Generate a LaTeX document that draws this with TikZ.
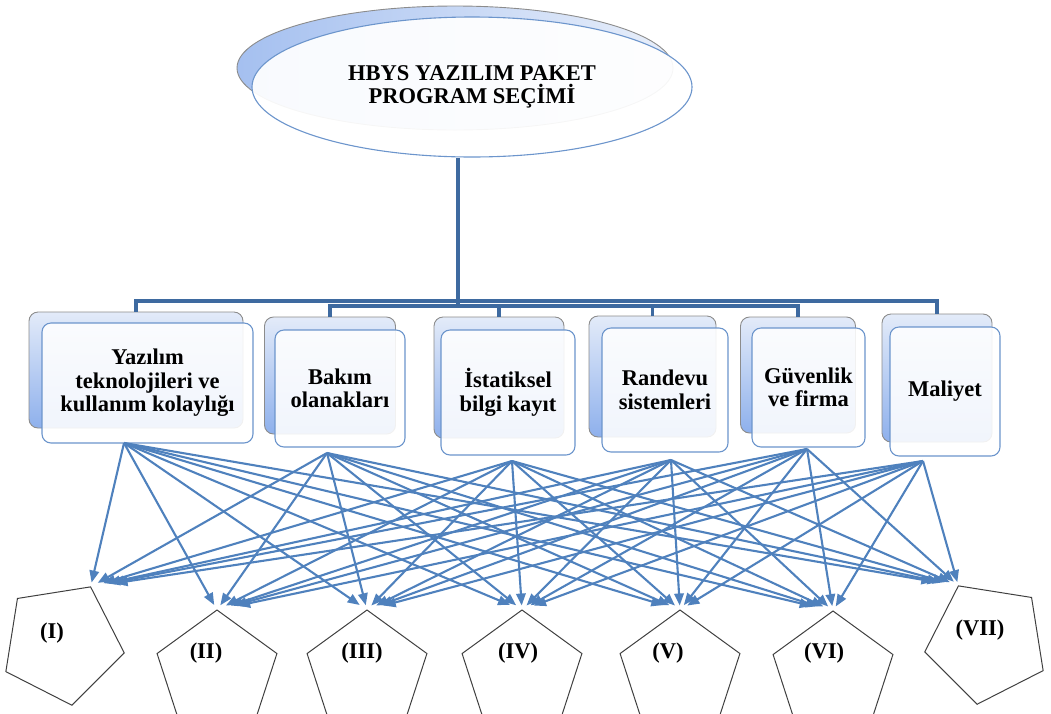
\documentclass[tikz,border=0pt]{standalone}
\usepackage{fontspec}
\setmainfont{Liberation Serif}
\usetikzlibrary{shapes.geometric,arrows.meta,calc}
\definecolor{arrblue}{HTML}{4F81BD}
\definecolor{treeblue}{HTML}{3E6AA0}
\definecolor{boxedge}{HTML}{6C95CC}
\definecolor{backtop}{HTML}{E3EBF9}
\definecolor{backbot}{HTML}{8EB0EC}
\begin{document}
\begin{tikzpicture}[x=1pt,y=-1pt,
  lbl/.style={font=\fontsize{22.5}{23.5}\selectfont\bfseries, align=center},
  backbox/.style={rectangle, rounded corners=9pt, draw=black!45, line width=0.9pt,
     top color=backtop, bottom color=backbot, inner sep=0pt, outer sep=0pt},
  frontbox/.style={rectangle, rounded corners=9pt, draw=boxedge, line width=1.1pt,
     fill=white, fill opacity=0.88, text opacity=1, inner sep=0pt, outer sep=0pt, lbl},
  penta/.style={regular polygon, regular polygon sides=5, minimum size=126pt,
     draw=black!75, line width=1pt, inner sep=0pt, outer sep=0pt},
  tree/.style={draw=treeblue, line width=3.4pt},
  arr/.style={draw=arrblue, line width=2.1pt, -{Triangle[length=12pt,width=9.5pt]}}
]
\useasboundingbox (0,0) rectangle (1051,713);
\clip (0,0) rectangle (1051,713);

% top ellipse
\node[ellipse, minimum width=436pt, minimum height=124pt, inner sep=0pt,
      draw=black!45, line width=0.9pt, left color=backbot!80, right color=backtop!80] (topback) at (455,68) {};
\node[ellipse, minimum width=440pt, minimum height=140pt, inner sep=0pt,
      draw=boxedge, line width=1.1pt, fill=white, fill opacity=0.93, text opacity=1, lbl] (top) at (472,87)
      {HBYS YAZILIM PAKET\\PROGRAM SEÇİMİ};

% boxes (back)
\node[backbox, minimum width=214pt, minimum height=116pt] (b1) at (136,370) {};
\node[backbox, minimum width=131pt, minimum height=117pt] (b2) at (330,375.5) {};
\node[backbox, minimum width=130pt, minimum height=121pt] (b3) at (499,377.5) {};
\node[backbox, minimum width=127pt, minimum height=121pt] (b4) at (652.5,376.5) {};
\node[backbox, minimum width=115pt, minimum height=116pt] (b5) at (798,375) {};
\node[backbox, minimum width=110pt, minimum height=128pt] (b6) at (937,378) {};

% boxes (front)
\node[frontbox, minimum width=211pt, minimum height=120pt] (f1) at (147.5,383) {Yazılım\\teknolojileri ve\\kullanım kolaylığı};
\node[frontbox, minimum width=130pt, minimum height=117pt] (f2) at (340,388.5) {Bakım\\olanakları};
\node[frontbox, minimum width=134pt, minimum height=125pt] (f3) at (508,392.5) {İstatiksel\\bilgi kayıt};
\node[frontbox, minimum width=126pt, minimum height=124pt] (f4) at (665,390) {Randevu\\sistemleri};
\node[frontbox, minimum width=113pt, minimum height=119pt] (f5) at (808.5,387.5) {Güvenlik\\ve firma};
\node[frontbox, minimum width=110pt, minimum height=129pt] (f6) at (945,391.5) {Maliyet};

% tree connectors
\coordinate (j1) at (458,301);
\coordinate (j2) at (458,306);
\draw[tree] (j1 |- top.south) -- (j2);
\draw[tree] (j1) -| (b1.north);
\draw[tree] (j1) -| (b6.north);
\draw[tree] (j2) -| (b2.north);
\draw[tree] (j2) -| (b3.north);
\draw[tree] (j2) -| (b4.north);
\draw[tree] (j2) -| (b5.north);

% pentagons
\node[penta, rotate=-27] (p1) at (62,643) {};
\node[penta] (p2) at (217,673) {};
\node[penta] (p3) at (367,673) {};
\node[penta] (p4) at (522,673) {};
\node[penta] (p5) at (680,673) {};
\node[penta] (p6) at (833,674) {};
\node[penta, rotate=27] (p7) at (987,642) {};

\node[lbl] (l1) at (52,633) {(I)};
\node[lbl] (l2) at (206,653) {(II)};
\node[lbl] (l3) at (362,653) {(III)};
\node[lbl] (l4) at (518,653) {(IV)};
\node[lbl] (l5) at (668,653) {(V)};
\node[lbl] (l6) at (824,653) {(VI)};
\node[lbl] (l7) at (980,630) {(VII)};

% arrow sources
\coordinate (s1) at (124,443);
\coordinate (s2) at (327,453);
\coordinate (s3) at (512,461);
\coordinate (s4) at (671,460);
\coordinate (s5) at (807,449);
\coordinate (s6) at (923,461);

\foreach \s in {1,...,6}{
  \foreach \t in {1,...,7}{
    \draw[arr] (s\s) -- ($(p\t.corner 1)!0.03!(s\s)$);
  }
}
\end{tikzpicture}
\end{document}
